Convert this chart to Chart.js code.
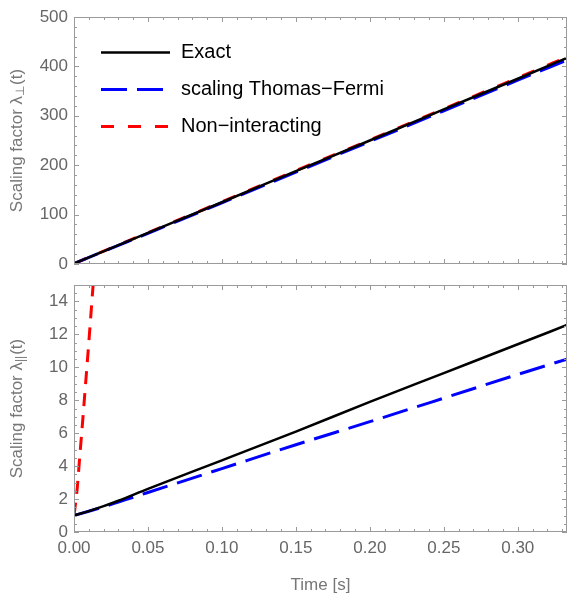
<!DOCTYPE html>
<html>
<head>
<meta charset="utf-8">
<script src="https://cdn.jsdelivr.net/npm/chart.js@4.4.0/dist/chart.umd.min.js"></script>
<style>
  body { margin: 0; background: #fff; }
  #wrap { position: relative; width: 568px; height: 594px; }
  #topChart { position: absolute; left: 0; top: 0; }
  #bottomChart { position: absolute; left: 0; top: 275px; }
</style>
</head>
<body>
<div id="wrap">
  <canvas id="topChart" width="568" height="275"></canvas>
  <canvas id="bottomChart" width="568" height="319"></canvas>
</div>
<script>
/* ── DATA ───────────────────────────────────────── */
const timePerp = [0, 0.05, 0.1, 0.15, 0.2, 0.25, 0.3, 0.3333];
const exactPerp = [1, 63, 125, 188, 250, 313, 375, 417];
const thomasFermiPerp = [1, 62, 124, 186, 248, 310, 372, 413];
const nonInteractingPerp = [1, 63.5, 126, 189, 251, 314, 377, 419];

const timePar = [0, 0.01, 0.02, 0.03, 0.05, 0.1, 0.15, 0.2, 0.25, 0.3, 0.3333];
const exactPar = [1, 1.27, 1.57, 1.9, 2.62, 4.35, 6.1, 7.9, 9.65, 11.4, 12.57];
const thomasFermiPar = [1, 1.26, 1.53, 1.82, 2.4, 3.85, 5.3, 6.7, 8.13, 9.57, 10.5];
const timeNonIntPar = [0, 0.002, 0.004, 0.006, 0.008, 0.01, 0.012, 0.014];
const nonInteractingPar = [1, 2.5, 4.7, 6.9, 9.2, 11.5, 13.9, 16.3];

const xTickLabels = ["0.00", "0.05", "0.10", "0.15", "0.20", "0.25", "0.30"];

/* ── STYLE ──────────────────────────────────────── */
const FONT = '"Liberation Sans", Arial, sans-serif';
const TICK_COLOR = "#666";
const TITLE_COLOR = "#777";
const FRAME_COLOR = "#9a9a9a";
const X_MAX = 0.3333;

const pts = (xs, ys) => xs.map((x, i) => ({ x, y: ys[i] }));

const series = (label, data, color, width, dash) => ({
  label,
  data,
  borderColor: color,
  borderWidth: width,
  borderDash: dash,
  pointRadius: 0,
  cubicInterpolationMode: "monotone",
  fill: false,
});

// drop the label-overflow padding Chart.js adds, so layout.padding places the frame
const noOverflow = (s) => {
  s.paddingTop = 0;
  s.paddingBottom = 0;
  s.paddingLeft = 0;
  s.paddingRight = 0;
};

/* ── FRAME, TICKS, TITLE, LEGEND PLUGIN ─────────── */
const mmaFrame = {
  id: "mmaFrame",
  afterDatasetsDraw(chart, args, opts) {
    const { ctx, chartArea: a, scales } = chart;
    const x = scales.x, y = scales.y;
    ctx.save();
    ctx.strokeStyle = FRAME_COLOR;
    ctx.lineWidth = 1;
    ctx.beginPath();
    const nx = Math.floor(X_MAX / opts.xMinor + 1e-6);
    for (let i = 0; i <= nx; i++) {
      const px = Math.round(x.getPixelForValue(i * opts.xMinor)) + 0.5;
      const len = i % opts.xEvery === 0 ? 5 : 3;
      ctx.moveTo(px, a.bottom); ctx.lineTo(px, a.bottom - len);
      ctx.moveTo(px, a.top); ctx.lineTo(px, a.top + len);
    }
    const ny = Math.round(y.max / opts.yMinor);
    for (let i = 0; i <= ny; i++) {
      const py = Math.round(y.getPixelForValue(i * opts.yMinor)) + 0.5;
      const len = i % opts.yEvery === 0 ? 5 : 3;
      ctx.moveTo(a.left, py); ctx.lineTo(a.left + len, py);
      ctx.moveTo(a.right, py); ctx.lineTo(a.right - len, py);
    }
    ctx.stroke();
    ctx.strokeRect(Math.round(a.left) + 0.5, Math.round(a.top) + 0.5,
      Math.round(a.right - a.left) - 1, Math.round(a.bottom - a.top) - 1);

    // y title with subscript
    const [main, sub, tail] = opts.title;
    ctx.fillStyle = TITLE_COLOR;
    ctx.textBaseline = "middle";
    ctx.textAlign = "left";
    ctx.font = "17px " + FONT;
    const wMain = ctx.measureText(main).width;
    const wTail = ctx.measureText(tail).width;
    ctx.font = "12px " + FONT;
    const wSub = ctx.measureText(sub).width;
    ctx.translate(17, (a.top + a.bottom) / 2);
    ctx.rotate(-Math.PI / 2);
    let cx = -(wMain + wSub + wTail + 1) / 2;
    ctx.font = "17px " + FONT;
    ctx.fillText(main, cx, 0);
    cx += wMain;
    ctx.font = "12px " + FONT;
    ctx.fillText(sub, cx, 4);
    cx += wSub + 1;
    ctx.font = "17px " + FONT;
    ctx.fillText(tail, cx, 0);
    ctx.restore();

    // legend inside the top panel
    if (opts.legend) {
      ctx.save();
      ctx.font = "20px " + FONT;
      ctx.textBaseline = "middle";
      ctx.fillStyle = "#000";
      chart.data.datasets.forEach((ds, i) => {
        const ly = opts.legend.y + i * opts.legend.gap;
        ctx.strokeStyle = ds.borderColor;
        ctx.lineWidth = ds.borderWidth;
        ctx.setLineDash(ds.borderDash || []);
        ctx.beginPath();
        ctx.moveTo(opts.legend.x, ly);
        ctx.lineTo(opts.legend.x + 69, ly);
        ctx.stroke();
        ctx.fillText(ds.label, opts.legend.x + 80, ly);
      });
      ctx.restore();
    }
  },
};

const yScale = (max, step) => ({
  min: 0,
  max,
  afterFit: (s) => { s.width = 74; noOverflow(s); },
  grid: { display: false, drawTicks: false },
  border: { display: false },
  ticks: {
    stepSize: step,
    includeBounds: false,
    padding: 6,
    color: TICK_COLOR,
    font: { family: FONT, size: 17 },
  },
});

/* ── TOP PANEL ──────────────────────────────────── */
new Chart(document.getElementById("topChart"), {
  type: "line",
  data: {
    datasets: [
      series("Exact", pts(timePerp, exactPerp), "#000", 2.5, []),
      series("scaling Thomas\u2212Fermi", pts(timePerp, thomasFermiPerp), "#0000ff", 3, [26, 10]),
      series("Non\u2212interacting", pts(timePerp, nonInteractingPerp), "#ff0000", 3, [13, 14]),
    ],
  },
  options: {
    responsive: false,
    animation: false,
    layout: { padding: { top: 17, bottom: 11, right: 1, left: 0 } },
    scales: {
      x: { type: "linear", min: 0, max: X_MAX, display: false },
      y: yScale(500, 100),
    },
    plugins: {
      legend: { display: false },
      tooltip: { enabled: false },
      mmaFrame: {
        xMinor: 0.01, xEvery: 5, yMinor: 20, yEvery: 5,
        title: ["Scaling factor \u03bb", "\u22a5", "(t)"],
        legend: { x: 101, y: 52.5, gap: 37 },
      },
    },
  },
  plugins: [mmaFrame],
});

/* ── BOTTOM PANEL ───────────────────────────────── */
new Chart(document.getElementById("bottomChart"), {
  type: "line",
  data: {
    datasets: [
      series("Exact", pts(timePar, exactPar), "#000", 2.5, []),
      series("scaling Thomas\u2212Fermi", pts(timePar, thomasFermiPar), "#0000ff", 3, [26, 10]),
      series("Non\u2212interacting", pts(timeNonIntPar, nonInteractingPar), "#ff0000", 3, [13, 9]),
    ],
  },
  options: {
    responsive: false,
    animation: false,
    layout: { padding: { top: 10, bottom: 0, right: 1, left: 0 } },
    scales: {
      x: {
        type: "linear",
        min: 0,
        max: X_MAX,
        afterFit: (s) => { s.height = 62; noOverflow(s); },
        grid: { display: false, drawTicks: false },
        border: { display: false },
        ticks: {
          stepSize: 0.05,
          includeBounds: false,
          padding: 6,
          color: TICK_COLOR,
          font: { family: FONT, size: 17 },
          callback: (v, i) => xTickLabels[i] ?? v.toFixed(2),
        },
        title: {
          display: true,
          text: "Time [s]",
          color: TITLE_COLOR,
          font: { family: FONT, size: 17 },
          padding: { top: 0, bottom: -2 },
        },
      },
      y: yScale(15, 2),
    },
    plugins: {
      legend: { display: false },
      tooltip: { enabled: false },
      mmaFrame: {
        xMinor: 0.01, xEvery: 5, yMinor: 0.5, yEvery: 4,
        title: ["Scaling factor \u03bb", "||", "(t)"],
      },
    },
  },
  plugins: [mmaFrame],
});
</script>
</body>
</html>
